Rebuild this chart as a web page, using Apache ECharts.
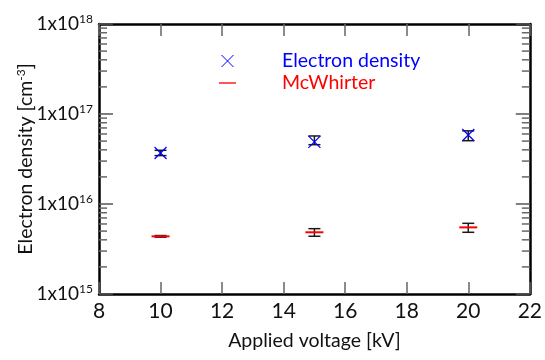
<!DOCTYPE html>
<html>
<head>
<meta charset="utf-8">
<script src="https://cdn.jsdelivr.net/npm/echarts@6/dist/echarts.min.js"></script>
<style>html,body{margin:0;padding:0;background:#fff}#c{width:545px;height:360px}</style>
</head>
<body>
<div id="c"></div>
<script>
// ---- data ----
var voltages = [10, 15, 20];
var edValues = [3.69e16, 4.9e16, 5.85e16];
var edLow = [3.45e16, 4.56e16, 5.05e16];
var edHigh = [3.95e16, 5.7e16, 6.5e16];
var mwValues = [4.37e15, 4.85e15, 5.5e15];
var mwLow = [4.28e15, 4.38e15, 4.85e15];
var mwHigh = [4.46e15, 5.32e15, 6.1e15];
var xTicks = [8, 10, 12, 14, 16, 18, 20, 22];
var yDecades = [1e15, 1e16, 1e17, 1e18];
var minorMultipliers = [2, 3, 4, 5, 6, 7, 8, 9];

var FONT = 'Lato';
var edData = voltages.map(function (v, i) { return [v, edValues[i]]; });
var mwData = voltages.map(function (v, i) { return [v, mwValues[i]]; });
var edErr = voltages.map(function (v, i) { return [v, edValues[i], edLow[i], edHigh[i]]; });
var mwErr = voltages.map(function (v, i) { return [v, mwValues[i], mwLow[i], mwHigh[i]]; });
var minorData = [];
yDecades.slice(0, 3).forEach(function (d) {
  minorMultipliers.forEach(function (m) { minorData.push([8, d * m]); });
});

function renderErr(params, api) {
  var x = api.value(0), lo = api.value(2), hi = api.value(3);
  var p1 = api.coord([x, lo]), p2 = api.coord([x, hi]);
  var hw = 6;
  var st = { stroke: '#1a1a1a', lineWidth: 1.5 };
  return { type: 'group', children: [
    { type: 'line', shape: { x1: p1[0], y1: p1[1], x2: p2[0], y2: p2[1] }, style: st },
    { type: 'line', shape: { x1: p1[0] - hw, y1: p1[1], x2: p1[0] + hw, y2: p1[1] }, style: st },
    { type: 'line', shape: { x1: p2[0] - hw, y1: p2[1], x2: p2[0] + hw, y2: p2[1] }, style: st }
  ] };
}
function renderMinor(params, api) {
  var v = api.value(1);
  var pl = api.coord([8, v]), pr = api.coord([22, v]);
  var len = 8;
  var st = { stroke: '#666', lineWidth: 1.5 };
  return { type: 'group', children: [
    { type: 'line', shape: { x1: pl[0], y1: pl[1], x2: pl[0] + len, y2: pl[1] }, style: st },
    { type: 'line', shape: { x1: pr[0] - len, y1: pr[1], x2: pr[0], y2: pr[1] }, style: st }
  ] };
}
function supLabel(v) {
  var e = Math.round(Math.log(v) / Math.LN10);
  return '{a|1x10}{b|' + e + '}';
}
var yRich = {
  a: { fontFamily: FONT, fontSize: 19, color: '#111' },
  b: { fontFamily: FONT, fontSize: 12, color: '#111', padding: [0, 0, 10, 0] }
};

var chart = echarts.init(document.getElementById('c'), null, { renderer: 'canvas' });
chart.setOption({
  backgroundColor: '#fff',
  animation: false,
  grid: { left: 99, right: 11, top: 24, bottom: 66, containLabel: false },
  legend: {
    orient: 'vertical', left: 214, top: 46,
    itemWidth: 17, itemHeight: 12, itemGap: 2,
    symbolKeepAspect: true,
    itemStyle: { borderWidth: 1 },
    textStyle: { fontFamily: FONT, fontSize: 19.5, padding: [0, 0, 0, 41] },
    data: [
      { name: 'Electron density', textStyle: { color: '#0000ff' } },
      { name: 'McWhirter', icon: 'path://M0,0L18,0L18,1.4L0,1.4Z', textStyle: { color: '#ff0000' } }
    ]
  },
  xAxis: [{
    type: 'value', min: xTicks[0], max: xTicks[xTicks.length - 1], interval: 2,
    position: 'bottom',
    axisLine: { lineStyle: { color: '#000', width: 2.5 } },
    axisTick: { inside: true, length: 12, lineStyle: { color: '#666', width: 1.5 } },
    axisLabel: { fontFamily: FONT, fontSize: 21, color: '#111', margin: 7 },
    splitLine: { show: false },
    name: 'Applied voltage [kV]', nameLocation: 'middle', nameGap: 37, nameMoveOverlap: false,
    nameTextStyle: { fontFamily: FONT, fontSize: 19.5, color: '#111' }
  }, {
    type: 'value', min: xTicks[0], max: xTicks[xTicks.length - 1], interval: 2,
    position: 'top',
    axisLine: { lineStyle: { color: '#000', width: 2.5 } },
    axisTick: { inside: true, length: 12, lineStyle: { color: '#666', width: 1.5 } },
    axisLabel: { show: false }, splitLine: { show: false }
  }],
  yAxis: [{
    type: 'log', logBase: 10, min: yDecades[0], max: yDecades[yDecades.length - 1],
    position: 'left',
    axisLine: { lineStyle: { color: '#000', width: 2.5 } },
    axisTick: { inside: true, length: 14, lineStyle: { color: '#555', width: 1.5 } },
    axisLabel: { formatter: supLabel, rich: yRich, margin: 6 },
    splitLine: { show: false },
    name: 'Electron density [cm{s|-3}]', nameLocation: 'middle', nameGap: 62, nameRotate: 90,
    nameMoveOverlap: false,
    nameTextStyle: { fontFamily: FONT, fontSize: 19.5, color: '#111',
      rich: { s: { fontFamily: FONT, fontSize: 12, color: '#111', padding: [0, 0, 10, 0] } } }
  }, {
    type: 'log', logBase: 10, min: yDecades[0], max: yDecades[yDecades.length - 1],
    position: 'right',
    axisLine: { lineStyle: { color: '#000', width: 2.5 } },
    axisTick: { inside: true, length: 14, lineStyle: { color: '#555', width: 1.5 } },
    axisLabel: { show: false }, splitLine: { show: false }
  }],
  series: [
    { name: 'minor', type: 'custom', renderItem: renderMinor, data: minorData, silent: true,
      encode: { x: 0, y: 1 }, clip: false },
    { name: 'edErr', type: 'custom', renderItem: renderErr, data: edErr, encode: { x: 0, y: [1, 2, 3] } },
    { name: 'mwErr', type: 'custom', renderItem: renderErr, data: mwErr, encode: { x: 0, y: [1, 2, 3] } },
    { name: 'Electron density', type: 'scatter', data: edData, z: 5,
      symbol: 'path://M0,0L10,10M0,10L10,0', symbolSize: 12, symbolKeepAspect: true,
      itemStyle: { color: 'rgba(0,0,0,0)', borderColor: '#0000ff', borderWidth: 1.2, opacity: 1 } },
    { name: 'McWhirter', type: 'scatter', data: mwData, z: 5,
      symbol: 'rect', symbolSize: [18, 2],
      itemStyle: { color: '#ff0000', opacity: 1 } }
  ]
});
</script>
</body>
</html>
